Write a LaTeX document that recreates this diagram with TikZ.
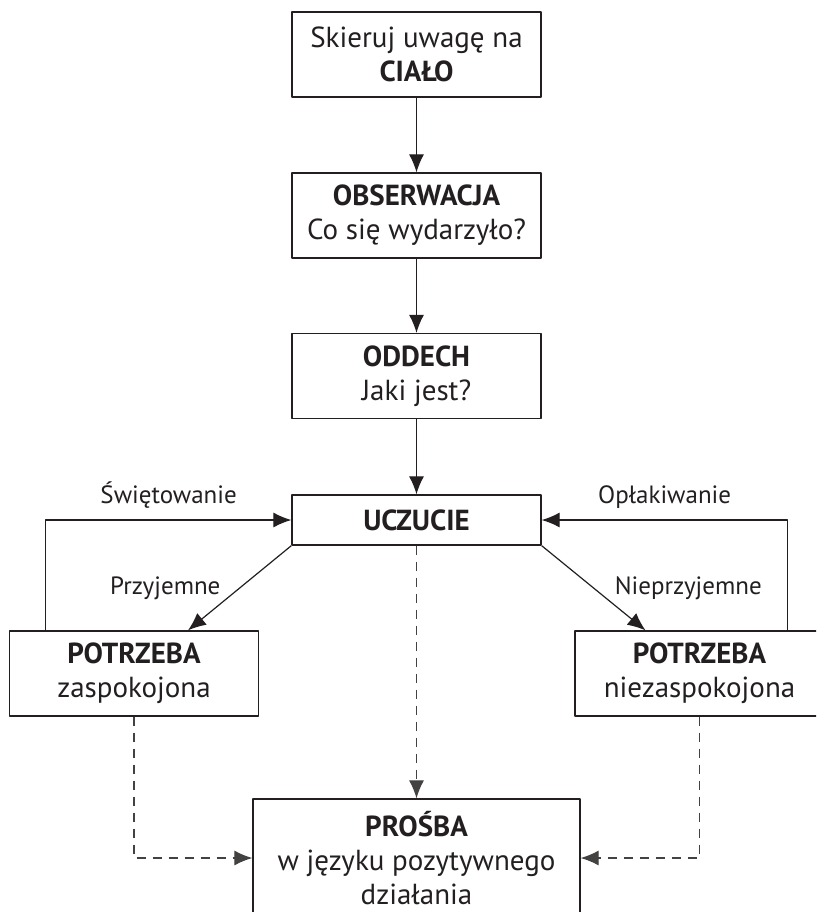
\documentclass[tikz,border=0pt]{standalone}
\usepackage{fontspec}
\setmainfont{PT Sans}
\usetikzlibrary{arrows.meta}
\definecolor{ink}{HTML}{231F20}

\begin{document}
\begin{tikzpicture}[x=0.5pt, y=-0.5pt, font=\fontsize{14.5}{17}\selectfont, text=ink, line join=round, >={Latex[length=9pt,width=7.5pt]},
	box/.style={draw=ink, line width=0.65pt, align=center, minimum width=124.5pt, minimum height=42.5pt, inner sep=0pt},
	flow/.style={->, draw=ink, line width=0.6pt},
	hint/.style={->, draw=ink!85, line width=0.6pt, dash pattern=on 4.5pt off 3.5pt},
	tag/.style={font=\fontsize{12.5}{15}\selectfont}]
	\useasboundingbox (0,0) rectangle (816,912);
	\clip (0,0) rectangle (816,912);
	% main column
	\node[box] (cialo) at (416.5,54.5) {Skieruj uwagę na\\\textbf{CIAŁO}};
	\node[box] (obserwacja) at (416.5,215.5) {\textbf{OBSERWACJA}\\Co się wydarzyło?};
	\node[box] (oddech) at (416.5,376) {\textbf{ODDECH}\\Jaki jest?};
	\node[box, minimum height=25pt] (uczucie) at (416.5,520) {\textbf{UCZUCIE}};
	% needs
	\node[box] (zasp) at (134,673.5) {\textbf{POTRZEBA}\\zaspokojona};
	\node[box] (niezasp) at (699.5,673.5) {\textbf{POTRZEBA}\\niezaspokojona};
	\node[box, minimum width=163.5pt, minimum height=59pt] (prosba) at (416.5,858) {\textbf{PROŚBA}\\w języku pozytywnego\\działania};
	% connectors
	\draw[flow] (cialo) -- (obserwacja);
	\draw[flow] (obserwacja) -- (oddech);
	\draw[flow] (oddech) -- (uczucie);
	\draw[flow] (uczucie.south west) -- ([xshift=27pt]zasp.north) node[tag, midway, left=6pt]{Przyjemne};
	\draw[flow] (uczucie.south east) -- ([xshift=-27pt]niezasp.north) node[tag, midway, right=7pt]{Nieprzyjemne};
	\draw[flow] ([xshift=18.5pt]zasp.north west) |- (uczucie.west) node[tag, pos=0.75, above=2pt]{Świętowanie};
	\draw[flow] ([xshift=-18.5pt]niezasp.north east) |- (uczucie.east) node[tag, pos=0.75, above=2pt]{Opłakiwanie};
	\draw[hint] (uczucie) -- (prosba);
	\draw[hint] (zasp) |- (prosba);
	\draw[hint] (niezasp) |- (prosba);
\end{tikzpicture}
\end{document}
